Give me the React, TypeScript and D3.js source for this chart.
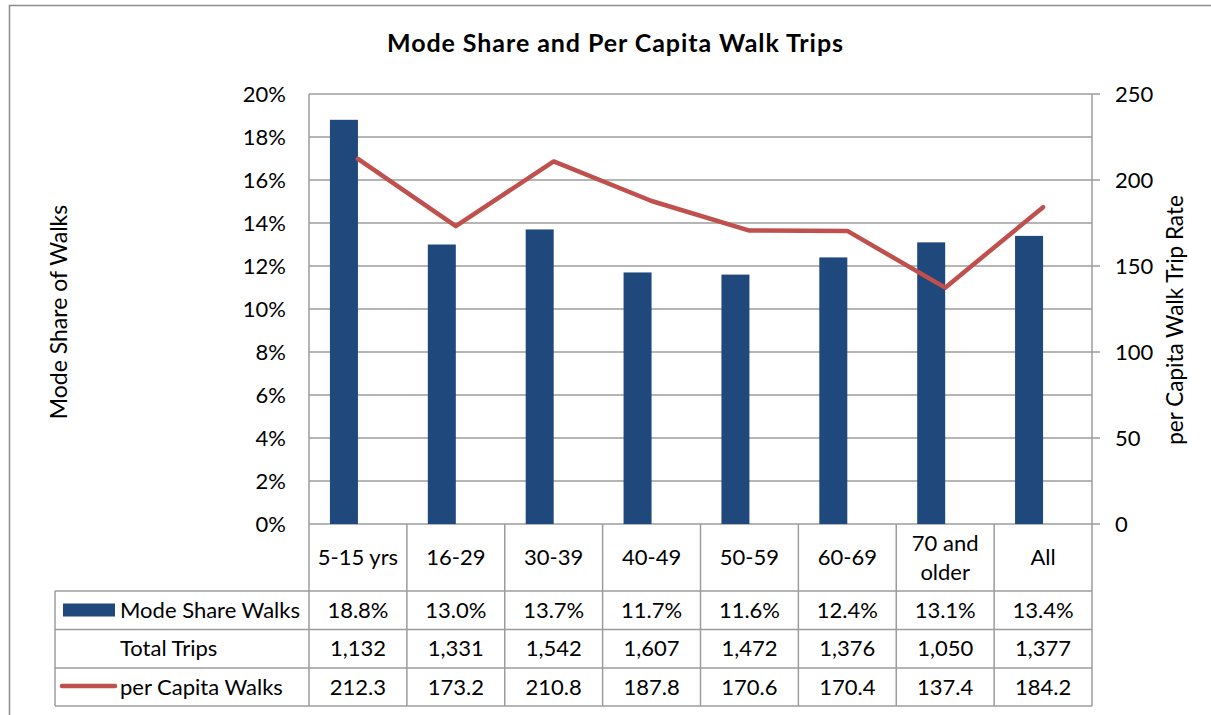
import React from "react";
import * as d3 from "d3";

const categories = ["5-15 yrs", "16-29", "30-39", "40-49", "50-59", "60-69", "70 and\nolder", "All"];
const modeShare = [18.8, 13.0, 13.7, 11.7, 11.6, 12.4, 13.1, 13.4];
const totalTrips = [1132, 1331, 1542, 1607, 1472, 1376, 1050, 1377];
const perCapita = [212.3, 173.2, 210.8, 187.8, 170.6, 170.4, 137.4, 184.2];
const leftTicks = [0, 2, 4, 6, 8, 10, 12, 14, 16, 18, 20];
const rightTicks = [0, 50, 100, 150, 200, 250];
const legendLabels = ["Mode Share Walks", "Total Trips", "per Capita Walks"];

const W = 1211, H = 715;
const plot = {left: 309, right: 1092, top: 94, bottom: 524};
const font = "Lato, 'Liberation Sans', sans-serif";
const fs = 22;
const blue = "#1f497d";
const red = "#c0504d";
const grid = "#9c9c9c";

export default function App() {
    const x = d3.scaleBand<string>()
        .domain(categories)
        .range([plot.left, plot.right])
        .paddingInner(0);
    const yL = d3.scaleLinear().domain([0, 20]).range([plot.bottom, plot.top]);
    const yR = d3.scaleLinear().domain([0, 250]).range([plot.bottom, plot.top]);

    const cx = (c: string) => (x(c) as number) + x.bandwidth() / 2;
    const barW = 28;

    const line = d3.line<number>()
        .x((_, i) => cx(categories[i]))
        .y(d => yR(d));

    // table rows
    const rowY = [591, 629.5, 668, 706];
    const tableLeft = 55;
    const fmtComma = d3.format(",");

    return (
        <svg width={W} height={H} style={{position: "absolute", left: 0, top: 0}} fontFamily={font}>
            <rect x={0} y={0} width={W} height={H} fill="#fff"/>
            {/* outer frame */}
            <path d={`M9.5,${H} V5.5 H${W}`} fill="none" stroke="#8c8c8c" strokeWidth={1.5}/>

            <text x={615} y={52} textAnchor="middle" fontSize={25} fontWeight="bold" fill="#000"
                  textLength={456} lengthAdjust="spacing">
                Mode Share and Per Capita Walk Trips
            </text>

            {/* gridlines */}
            {leftTicks.map(t => (
                <line key={t} x1={plot.left} x2={plot.right} y1={yL(t)} y2={yL(t)} stroke={grid} strokeWidth={1.5}/>
            ))}
            {rightTicks.map(t => (
                <line key={"rt" + t} x1={plot.right} x2={plot.right + 8} y1={yR(t)} y2={yR(t)} stroke={grid} strokeWidth={1.5}/>
            ))}

            {/* tick labels */}
            {leftTicks.map(t => (
                <text key={"l" + t} x={286} y={yL(t)} dy="0.35em" textAnchor="end" fontSize={fs} fill="#000">
                    {t + "%"}
                </text>
            ))}
            {rightTicks.map(t => (
                <text key={"r" + t} x={1115} y={yR(t)} dy="0.35em" textAnchor="start" fontSize={fs} fill="#000">
                    {t}
                </text>
            ))}

            {/* axis titles */}
            <text transform={`translate(67,312) rotate(-90)`} textAnchor="middle" fontSize={23} fill="#000">
                Mode Share of Walks
            </text>
            <text transform={`translate(1183,320) rotate(-90)`} textAnchor="middle" fontSize={22.5} fill="#000">
                per Capita Walk Trip Rate
            </text>

            {/* bars */}
            {modeShare.map((v, i) => (
                <rect key={"b" + i} x={cx(categories[i]) - barW} y={yL(v)} width={barW} height={plot.bottom - yL(v)} fill={blue}/>
            ))}

            {/* line */}
            <path d={line(perCapita) || ""} fill="none" stroke={red} strokeWidth={4.5} strokeLinejoin="round" strokeLinecap="round"/>

            {/* axis lines */}
            <line x1={plot.left} x2={plot.left} y1={plot.top} y2={rowY[3]} stroke={grid} strokeWidth={1.5}/>
            <line x1={plot.right} x2={plot.right} y1={plot.top} y2={rowY[3]} stroke={grid} strokeWidth={1.5}/>

            {/* table lines */}
            {categories.map((c, i) => i > 0 ? (
                <line key={"v" + i} x1={x(c)} x2={x(c)} y1={plot.bottom} y2={rowY[3]} stroke={grid} strokeWidth={1.5}/>
            ) : null)}
            <line x1={tableLeft} x2={tableLeft} y1={rowY[0]} y2={rowY[3]} stroke={grid} strokeWidth={1.5}/>
            {rowY.map((ry, i) => (
                <line key={"h" + i} x1={tableLeft} x2={plot.right} y1={ry} y2={ry} stroke={grid} strokeWidth={1.5}/>
            ))}

            {/* header row */}
            {categories.map((c, i) => {
                const parts = c.split("\n");
                const mid = (plot.bottom + rowY[0]) / 2;
                return (
                    <text key={"c" + i} x={cx(c)} y={mid - (parts.length - 1) * 14.5} textAnchor="middle" fontSize={fs} fill="#000">
                        {parts.map((p, j) => (
                            <tspan key={j} x={cx(c)} dy={j === 0 ? "0.35em" : 29}>{p}</tspan>
                        ))}
                    </text>
                );
            })}

            {/* legend column */}
            <rect x={63} y={603.5} width={52} height={13} fill={blue}/>
            <line x1={62} x2={115} y1={686} y2={686} stroke={red} strokeWidth={4.5} strokeLinecap="round"/>
            {legendLabels.map((lab, i) => (
                <text key={"lg" + i} x={120} y={(rowY[i] + rowY[i + 1]) / 2} dy="0.35em" fontSize={fs} fill="#000">{lab}</text>
            ))}

            {/* data rows */}
            {categories.map((c, i) => (
                <g key={"d" + i}>
                    <text x={cx(c)} y={(rowY[0] + rowY[1]) / 2} dy="0.35em" textAnchor="middle" fontSize={fs} fill="#000">
                        {modeShare[i].toFixed(1) + "%"}
                    </text>
                    <text x={cx(c)} y={(rowY[1] + rowY[2]) / 2} dy="0.35em" textAnchor="middle" fontSize={fs} fill="#000">
                        {fmtComma(totalTrips[i])}
                    </text>
                    <text x={cx(c)} y={(rowY[2] + rowY[3]) / 2} dy="0.35em" textAnchor="middle" fontSize={fs} fill="#000">
                        {perCapita[i].toFixed(1)}
                    </text>
                </g>
            ))}
        </svg>
    );
}
